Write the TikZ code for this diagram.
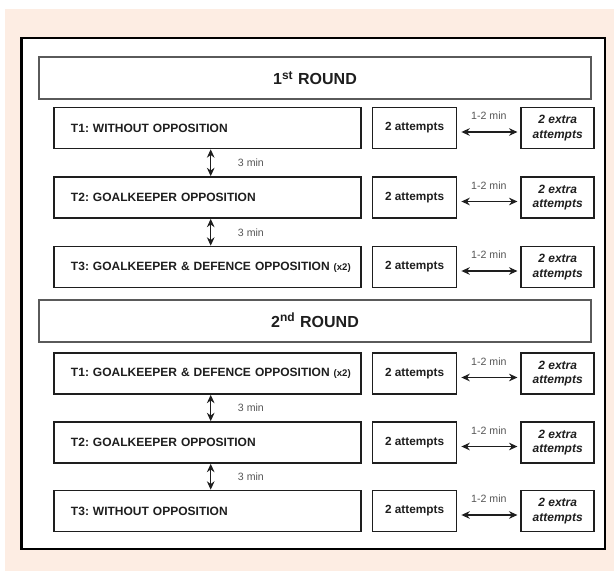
\documentclass[tikz,border=0pt]{standalone}
\usepackage{fontspec}
\setmainfont{Liberation Sans}
\usetikzlibrary{arrows.meta,positioning}
\definecolor{peachbg}{RGB}{253,237,227}
\definecolor{roundline}{RGB}{90,90,90}
\definecolor{inkcolor}{RGB}{30,30,30}
\definecolor{gapcolor}{RGB}{85,85,85}
\frenchspacing

\begin{document}
\begin{tikzpicture}[
    x=0.5pt, y=-0.5pt,
    node distance=5pt,
    roundbox/.style={rectangle, draw=roundline, line width=1pt, minimum width=276pt, minimum height=21pt, font=\fontsize{8}{9.6}\selectfont\bfseries, text=inkcolor},
    taskbox/.style={rectangle, draw=inkcolor, line width=0.8pt, minimum height=20.5pt, text width=153.5pt, inner xsep=0pt, align=left, font=\fontsize{6}{7.2}\selectfont\bfseries, text=inkcolor, execute at begin node={\hspace*{8.5pt}}},
    attbox/.style={rectangle, draw=inkcolor, line width=0.8pt, minimum width=42pt, minimum height=20.5pt, inner sep=0pt, font=\fontsize{5.9}{7.2}\selectfont\bfseries, text=inkcolor},
    extrabox/.style={attbox, minimum width=36.5pt, align=center, font=\fontsize{6}{7.3}\selectfont\bfseries\itshape},
    gaplabel/.style={font=\fontsize{5.3}{6}\selectfont, text=gapcolor},
    arrow/.style={<->, >={Stealth[length=4.2pt, width=3.8pt]}, line width=0.6pt, draw=inkcolor}
]

% Page and frame
\useasboundingbox (0,0) rectangle (614,571);
\fill[white] (0,0) rectangle (614,571);
\fill[peachbg] (5,9) rectangle (614,571);
\filldraw[fill=white, draw=black, line width=1.25pt] (21.7,38) rectangle (605,549);

% 1st round
\node[roundbox] (round1) at (315,78) {1\textsuperscript{st} ROUND};

\node[taskbox] (r1t1) at (207.5,128) {T1: WITHOUT OPPOSITION};
\node[attbox, right=5pt of r1t1] (r1a1) {2 attempts};
\node[extrabox, right=31.5pt of r1a1] (r1e1) {2 extra\\attempts};

\node[taskbox] (r1t2) at (207.5,197.5) {T2: GOALKEEPER OPPOSITION};
\node[attbox, right=5pt of r1t2] (r1a2) {2 attempts};
\node[extrabox, right=31.5pt of r1a2] (r1e2) {2 extra\\attempts};

\node[taskbox] (r1t3) at (207.5,267) {T3: GOALKEEPER \& DEFENCE OPPOSITION {\fontsize{4.8}{6}\selectfont(x2)}};
\node[attbox, right=5pt of r1t3] (r1a3) {2 attempts};
\node[extrabox, right=31.5pt of r1a3] (r1e3) {2 extra\\attempts};

% 2nd round
\node[roundbox] (round2) at (315,320.5) {2\textsuperscript{nd} ROUND};

\node[taskbox] (r2t1) at (207.5,373.5) {T1: GOALKEEPER \& DEFENCE OPPOSITION {\fontsize{4.8}{6}\selectfont(x2)}};
\node[attbox, right=5pt of r2t1] (r2a1) {2 attempts};
\node[extrabox, right=31.5pt of r2a1] (r2e1) {2 extra\\attempts};

\node[taskbox] (r2t2) at (207.5,442.5) {T2: GOALKEEPER OPPOSITION};
\node[attbox, right=5pt of r2t2] (r2a2) {2 attempts};
\node[extrabox, right=31.5pt of r2a2] (r2e2) {2 extra\\attempts};

\node[taskbox] (r2t3) at (207.5,511) {T3: WITHOUT OPPOSITION};
\node[attbox, right=5pt of r2t3] (r2a3) {2 attempts};
\node[extrabox, right=31.5pt of r2a3] (r2e3) {2 extra\\attempts};

% Arrows - rest between tasks
\draw[arrow] ([xshift=1.6pt]r1t1.south) -- ([xshift=1.6pt]r1t2.north) node[midway, right=10pt, gaplabel] {3 min};
\draw[arrow] ([xshift=1.6pt]r1t2.south) -- ([xshift=1.6pt]r1t3.north) node[midway, right=10pt, gaplabel] {3 min};
\draw[arrow] ([xshift=1.6pt]r2t1.south) -- ([xshift=1.6pt]r2t2.north) node[midway, right=10pt, gaplabel] {3 min};
\draw[arrow] ([xshift=1.6pt]r2t2.south) -- ([xshift=1.6pt]r2t3.north) node[midway, right=10pt, gaplabel] {3 min};

% Arrows - rest before extra attempts
\draw[arrow, shorten <=2pt, shorten >=1.5pt] ([yshift=-2pt]r1a1.east) -- ([yshift=-2pt]r1e1.west) node[midway, above=2.5pt, gaplabel] {1-2 min};
\draw[arrow, shorten <=2pt, shorten >=1.5pt] ([yshift=-2pt]r1a2.east) -- ([yshift=-2pt]r1e2.west) node[midway, above=2.5pt, gaplabel] {1-2 min};
\draw[arrow, shorten <=2pt, shorten >=1.5pt] ([yshift=-2pt]r1a3.east) -- ([yshift=-2pt]r1e3.west) node[midway, above=2.5pt, gaplabel] {1-2 min};
\draw[arrow, shorten <=2pt, shorten >=1.5pt] ([yshift=-2pt]r2a1.east) -- ([yshift=-2pt]r2e1.west) node[midway, above=2.5pt, gaplabel] {1-2 min};
\draw[arrow, shorten <=2pt, shorten >=1.5pt] ([yshift=-2pt]r2a2.east) -- ([yshift=-2pt]r2e2.west) node[midway, above=2.5pt, gaplabel] {1-2 min};
\draw[arrow, shorten <=2pt, shorten >=1.5pt] ([yshift=-2pt]r2a3.east) -- ([yshift=-2pt]r2e3.west) node[midway, above=2.5pt, gaplabel] {1-2 min};

\end{tikzpicture}
\end{document}
